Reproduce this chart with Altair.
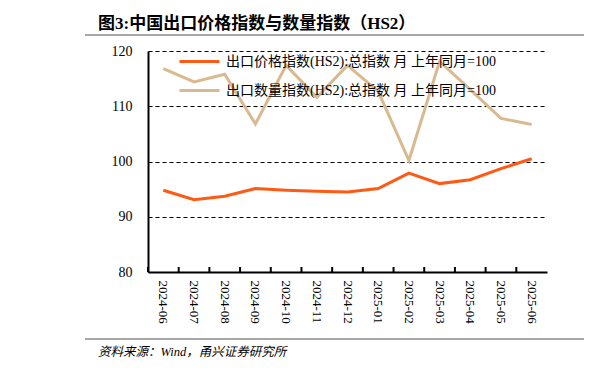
import altair as alt
import pandas as pd

months = ["2024-06", "2024-07", "2024-08", "2024-09", "2024-10", "2024-11", "2024-12",
          "2025-01", "2025-02", "2025-03", "2025-04", "2025-05", "2025-06"]
price = [94.8, 93.1, 93.7, 95.1, 94.8, 94.6, 94.5, 95.1, 97.9, 96.0, 96.7, 98.7, 100.5]
volume = [116.8, 114.4, 115.8, 106.8, 117.4, 111.6, 117.4, 112.7, 100.2, 118.1, 113.0, 107.8, 106.7]
s_price = "出口价格指数(HS2):总指数 月 上年同月=100"
s_volume = "出口数量指数(HS2):总指数 月 上年同月=100"
y_ticks = [80, 90, 100, 110, 120]

df = pd.DataFrame({
    "month": months * 2,
    "value": price + volume,
    "series": [s_price] * len(months) + [s_volume] * len(months),
})
cats = pd.DataFrame({"month": months})

serif = "Liberation Serif"
mixed = "Liberation Serif, Noto Sans CJK SC"
W, H = 399, 221

xenc = alt.X("month:N", sort=months, title=None,
             scale=alt.Scale(paddingInner=0, paddingOuter=0),
             axis=alt.Axis(labelAngle=90, labelFont=serif, labelFontSize=13, labelColor="#000",
                           labelPadding=8, ticks=False, domainColor="#000", domainWidth=2,
                           labelBaseline="middle", labelAlign="left"))

lines = alt.Chart(df).mark_line(strokeWidth=3).encode(
    x=xenc,
    y=alt.Y("value:Q", title=None,
            scale=alt.Scale(domain=[80, 120], nice=False, zero=False),
            axis=alt.Axis(values=y_ticks, labelFont=serif, labelFontSize=14, labelColor="#000",
                          labelPadding=16, ticks=False, domainColor="#000", domainWidth=2,
                          grid=True, gridColor="#000", gridDash=[4, 3], gridWidth=1)),
    color=alt.Color("series:N", sort=[s_price, s_volume],
                    scale=alt.Scale(domain=[s_price, s_volume], range=["#FF5A14", "#D9BA90"]),
                    legend=alt.Legend(title=None, orient="none", legendX=30, legendY=-11,
                                      symbolType="stroke", symbolStrokeWidth=3, symbolSize=1600,
                                      labelFont=mixed, labelFontSize=14,
                                      labelColor="#000", rowPadding=-12, labelLimit=400,
                                      labelOffset=5, symbolOffset=0)),
)

xticks = alt.Chart(cats).mark_rule(color="#000", strokeWidth=2).encode(
    x=alt.X("month:N", sort=months, bandPosition=0),
    y=alt.value(H),
    y2=alt.value(H - 5),
)

one = cats.head(1)
rule_color = "#8a8a8a"
top_rule1 = alt.Chart(one).mark_rule(color=rule_color, strokeWidth=1.5).encode(
    x=alt.value(-63), x2=alt.value(436), y=alt.value(-16))
top_rule2 = alt.Chart(one).mark_rule(color=rule_color, strokeWidth=1.5).encode(
    x=alt.value(458), x2=alt.value(470), y=alt.value(-16))
bot_rule1 = alt.Chart(one).mark_rule(color=rule_color, strokeWidth=1.5).encode(
    x=alt.value(-63), x2=alt.value(436), y=alt.value(288))
bot_rule2 = alt.Chart(one).mark_rule(color=rule_color, strokeWidth=1.5).encode(
    x=alt.value(458), x2=alt.value(470), y=alt.value(288))
source = alt.Chart(one).mark_text(
    text="资料来源：Wind，甬兴证券研究所", font=mixed, fontSize=12.5,
    fontStyle="italic", align="left", baseline="middle", color="#000").encode(
    x=alt.value(-50), y=alt.value(301))

chart = alt.layer(lines, xticks, top_rule1, top_rule2, bot_rule1, bot_rule2, source).properties(
    width=W, height=H,
    title=alt.TitleParams("图3:中国出口价格指数与数量指数（HS2）", anchor="start", frame="group",
                          dx=-50, offset=1, font=mixed, fontSize=17,
                          fontWeight="bold", color="#000"),
    padding={"left": 140, "top": 43, "right": 56, "bottom": 92},
    autosize=alt.AutoSizeParams(type="none"),
).configure_view(stroke=None)

chart.save("out.html", embed_options={"renderer": "svg", "actions": False})
